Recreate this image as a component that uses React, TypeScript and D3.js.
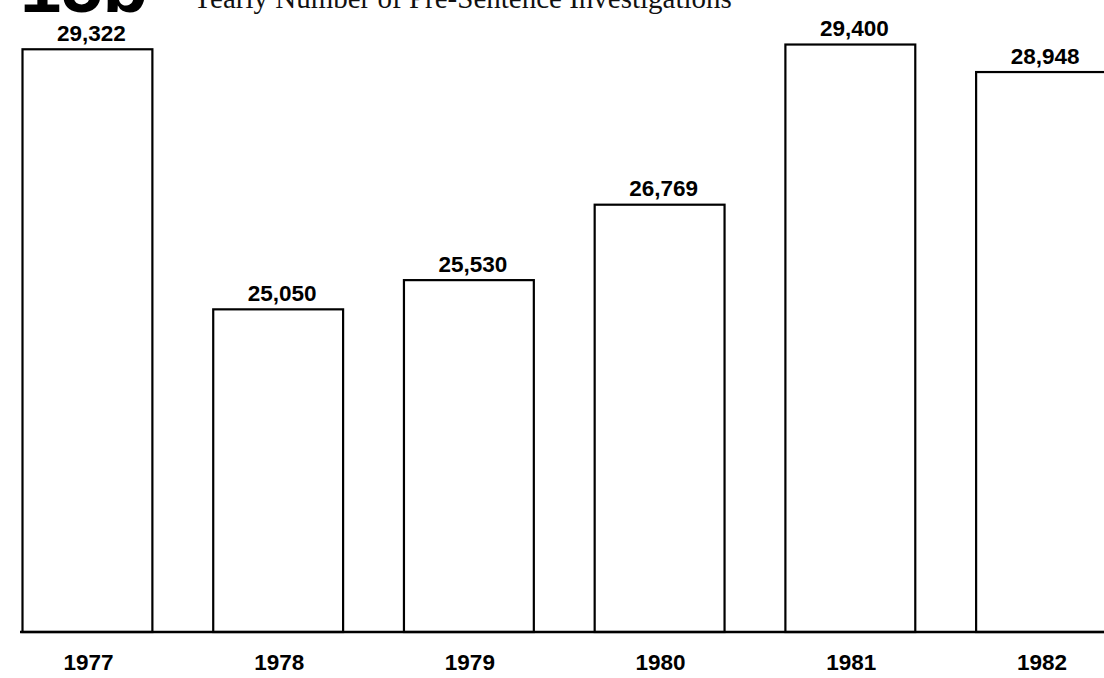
import React from "react";
import * as d3 from "d3";

const years = ["1977", "1978", "1979", "1980", "1981", "1982"];
const investigations = [29322, 25050, 25530, 26769, 29400, 28948];
const chartTitle = "Yearly Number of Pre-Sentence Investigations";
const figureNumber = "15b";
const yDomain = [19750, 30000];

const W = 1104;
const H = 678;
const baseY = 632;

export default function App() {
  const x = d3.scaleBand<string>().domain(years).range([22.5, 1106]).paddingInner(0.319).paddingOuter(0);
  const y = d3.scaleLinear().domain(yDomain).range([baseY, 8]);
  const fmt = d3.format(",");
  const sans = "'Liberation Sans', Arial, Helvetica, sans-serif";
  return (
    <svg
      width={W}
      height={H}
      style={{ position: "absolute", left: 0, top: 0, display: "block", background: "#fff" }}
    >
      <rect x={0} y={0} width={W} height={H} fill="#fff" />
      <text x={20} y={12} fontFamily={sans} fontWeight={900} fontSize={74} fill="#000" textLength={128} lengthAdjust="spacingAndGlyphs">
        {figureNumber}
      </text>
      <text x={192} y={8} fontFamily="'Liberation Serif', 'Times New Roman', serif" fontSize={29} fill="#111">
        {chartTitle}
      </text>
      {years.map((yr, i) => {
        const x0 = x(yr)!;
        const bw = x.bandwidth();
        const top = y(investigations[i]);
        return (
          <g key={yr}>
            <rect x={x0} y={top} width={bw} height={baseY - top} fill="#fff" stroke="#000" strokeWidth={2.2} />
            <text
              x={x0 + bw / 2 + 4}
              y={top - 8.5}
              textAnchor="middle"
              fontFamily={sans}
              fontWeight="bold"
              fontSize={22.5}
              fill="#000"
            >
              {fmt(investigations[i])}
            </text>
            <text
              x={x0 + bw / 2 + 1}
              y={670}
              textAnchor="middle"
              fontFamily={sans}
              fontWeight="bold"
              fontSize={22.5}
              fill="#000"
            >
              {yr}
            </text>
          </g>
        );
      })}
      <line x1={20} x2={W} y1={baseY} y2={baseY} stroke="#000" strokeWidth={2.6} />
    </svg>
  );
}
